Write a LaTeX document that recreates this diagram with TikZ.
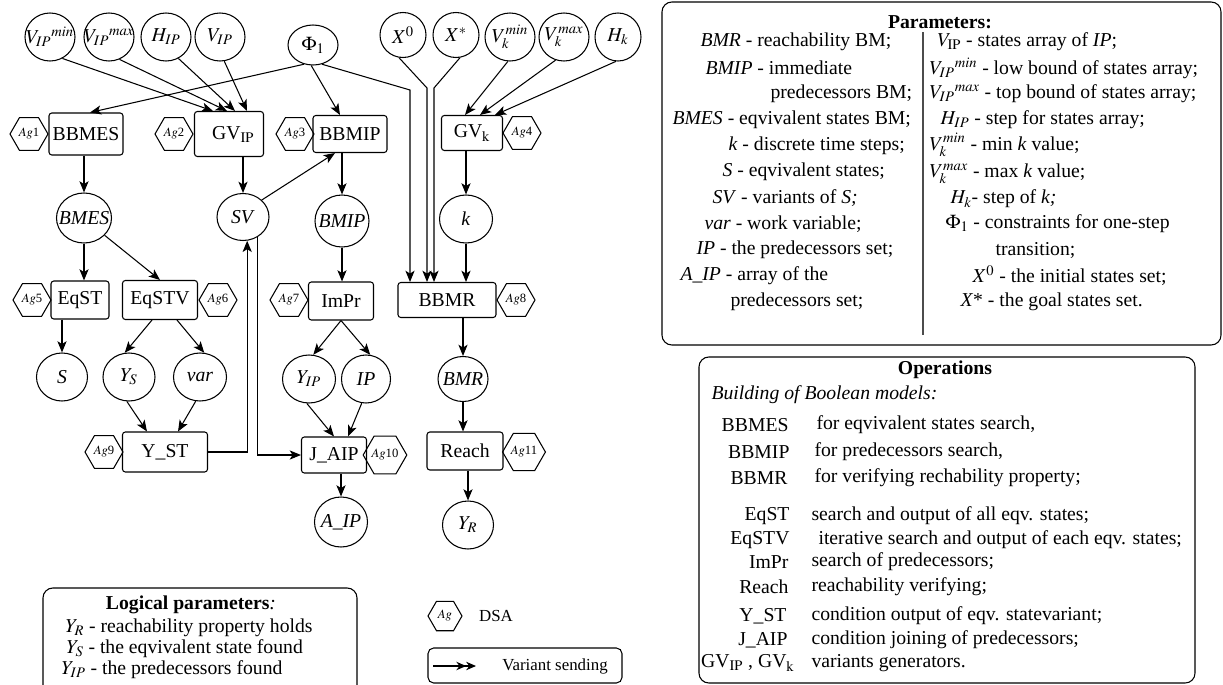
\documentclass[tikz,border=0pt]{standalone}
\usepackage{mathptmx}
\usepackage{fontspec}
\setmainfont{Liberation Serif}
\usetikzlibrary{shapes.geometric,arrows.meta}

\newcommand{\pu}{0.025cm}
\newcommand{\nodefont}{\fontsize{14}{16}\selectfont}
\newcommand{\legfont}{\fontsize{14}{16}\selectfont}
\newcommand{\keyfont}{\fontsize{12}{14}\selectfont}
\newcommand{\agfont}{\fontsize{9}{10}\selectfont}
\newcommand{\vn}[1]{\makebox[0pt]{#1}}
\newcommand{\ag}[1]{{\agfont$Ag$#1}}

\tikzset{
  opbox/.style={draw, rounded corners=2pt, minimum height=38*\pu, inner sep=1pt, font=\nodefont},
  varnode/.style={draw, ellipse, minimum width=50*\pu, minimum height=48*\pu, inner sep=0pt, font=\nodefont},
  agent/.style={draw, regular polygon, regular polygon sides=6, minimum size=38*\pu, inner sep=0pt},
  arr/.style={-{Stealth[length=8pt,width=6.5pt,inset=2pt]}},
  legline/.style={anchor=west, font=\legfont, inner sep=0pt},
  legbox/.style={draw, rounded corners=7pt},
}

\begin{document}
\begin{tikzpicture}[x=\pu, y=-\pu, line width=0.75pt]
        \useasboundingbox (0,0) rectangle (1223,684);
        \clip (0,0) rectangle (1223,684);

        % input variables
        \node[varnode] (vipmin) at (50,37) {\vn{${V_{IP}}^{min}$}};
        \node[varnode] (vipmax) at (109,37) {\vn{${V_{IP}}^{max}$}};
        \node[varnode] (hip) at (166,37) {\vn{$H_{IP}$}};
        \node[varnode] (vip) at (220,37) {\vn{$V_{IP}$}};
        \node[varnode, minimum height=40*\pu] (phi) at (313,45) {\vn{$\Phi_1$}};
        \node[varnode, minimum width=46*\pu, minimum height=45*\pu] (xz) at (403,35) {\vn{$X^0$}};
        \node[varnode, minimum width=46*\pu, minimum height=45*\pu] (xs) at (456,35) {\vn{$X^*$}};
        \node[varnode] (vkmin) at (510,37) {\vn{$V_k^{min}$}};
        \node[varnode] (vkmax) at (564,37) {\vn{$V_k^{max}$}};
        \node[varnode, minimum width=46*\pu] (hk) at (618,37) {\vn{$H_k$}};

        % builders and generators
        \node[opbox, minimum width=74*\pu, minimum height=42*\pu] (bbmes) at (86,134) {BBMES};
        \node[opbox, minimum width=69*\pu, minimum height=45*\pu] (gvip) at (229,134) {\hspace{6pt}GV$_{\mathrm{IP}}$};
        \node[opbox, minimum width=74*\pu, minimum height=37*\pu] (bbmip) at (350,134) {BBMIP};
        \node[opbox, minimum width=61*\pu, minimum height=35*\pu] (gvk) at (472,133) {GV$_{\mathrm{k}}$};
        \node[agent] (ag1) at (29,134) {\ag{1}};
        \node[agent] (ag2) at (174,134) {\ag{2}};
        \node[agent] (ag3) at (295,134) {\ag{3}};
        \node[agent] (ag4) at (522,133) {\ag{4}};

        % boolean models
        \node[varnode, minimum width=55*\pu, minimum height=50*\pu] (bmes) at (84,218) {\vn{\textit{BMES}}};
        \node[varnode, minimum width=52*\pu, minimum height=47*\pu] (sv) at (243,217) {\vn{\textit{SV}}};
        \node[varnode, minimum width=54*\pu, minimum height=52*\pu] (bmip) at (342,221) {\vn{\textit{BMIP}}};
        \node[varnode, minimum width=53*\pu] (k) at (466,219) {\vn{\textit{k}}};

        % search operations
        \node[opbox, minimum width=58*\pu] (eqst) at (80,300) {EqST};
        \node[opbox, minimum width=75*\pu, minimum height=39*\pu] (eqstv) at (160,300) {EqSTV};
        \node[opbox, minimum width=65*\pu] (impr) at (341,301) {ImPr};
        \node[opbox, minimum width=98*\pu, minimum height=35*\pu] (bbmr) at (447,300) {BBMR};
        \node[agent] (ag5) at (32,300) {\ag{5}};
        \node[agent] (ag6) at (218,300) {\ag{6}};
        \node[agent] (ag7) at (289,300) {\ag{7}};
        \node[agent] (ag8) at (516,300) {\ag{8}};

        % intermediate results
        \node[varnode, minimum width=51*\pu] (s) at (62,377) {\vn{\textit{S}}};
        \node[varnode, minimum width=52*\pu] (ys) at (129,377) {\vn{$Y_S$}};
        \node[varnode, minimum width=53*\pu] (var) at (200,377) {\vn{\textit{var}}};
        \node[varnode, minimum width=53*\pu] (yip) at (309,379) {\vn{$Y_{IP}$}};
        \node[varnode, minimum width=49*\pu] (ip) at (366,379) {\vn{\textit{IP}}};
        \node[varnode, minimum height=45*\pu] (bmr) at (463,379) {\vn{\textit{BMR}}};

        % conditions
        \node[opbox, minimum width=85*\pu, minimum height=40*\pu] (yst) at (165,452) {Y\_ST};
        \node[opbox, minimum width=65*\pu, minimum height=36*\pu] (jaip) at (334,455) {J\_AIP};
        \node[opbox, minimum width=76*\pu] (reach) at (465,451) {Reach};
        \node[agent] (ag9) at (104,452) {\ag{9}};
        \node[agent] (ag10) at (385,455) {\ag{10}};
        \node[agent] (ag11) at (524,452) {\ag{11}};

        % outputs
        \node[varnode, minimum width=53*\pu, minimum height=50*\pu] (aip) at (341,522) {\vn{\textit{A\_IP}}};
        \node[varnode, minimum width=51*\pu] (yr) at (468,525) {\vn{$Y_R$}};

        % connectors to generators
        \draw[arr] (vipmin.-60) -- ([xshift=-16*\pu]gvip.north);
        \draw[arr] (vipmax.-65) -- ([xshift=-2*\pu]gvip.north);
        \draw[arr] (hip.-60) -- ([xshift=6*\pu]gvip.north);
        \draw[arr] (vip.-80) -- ([xshift=18*\pu]gvip.north);
        \draw[arr] (vkmin.-95) -- ([xshift=-7*\pu]gvk.north);
        \draw[arr] (vkmax.-110) -- ([xshift=8*\pu]gvk.north);
        \draw[arr] (hk.-95) -- ([xshift=23*\pu]gvk.north);

        % constraints and state sets
        \draw[arr] (phi.-115) -- ([xshift=4*\pu]bbmes.north);
        \draw[arr] (phi.-95) -- ([xshift=-10*\pu]bbmip.north);
        \coordinate (phibend) at (410,90);
        \coordinate (xzbend) at (427,88);
        \coordinate (xsbend) at (434,88);
        \draw[arr] (phi.-65) -- (phibend) -- (phibend |- bbmr.north);
        \draw[arr] (xz.-100) -- (xzbend) -- (xzbend |- bbmr.north);
        \draw[arr] (xs.-80) -- (xsbend) -- (xsbend |- bbmr.north);

        % main flow
        \draw[arr] (bbmes.south -| bmes.north) -- (bmes.north);
        \draw[arr] (gvip.south -| sv.north) -- (sv.north);
        \draw[arr] (bbmip.south -| bmip.north) -- (bmip.north);
        \draw[arr] (gvk.south -| k.north) -- (k.north);
        \draw[arr] (sv.north east) -- ([xshift=-15*\pu]bbmip.south);
        \draw[arr] (bmes.south) -- (bmes.south |- eqst.north);
        \draw[arr] (bmes.-40) -- (eqstv.north);
        \draw[arr] (bmip.south) -- (bmip.south |- impr.north);
        \draw[arr] (k.south) -- (k.south |- bbmr.north);
        \draw[arr] (eqst.south -| s.north) -- (s.north);
        \draw[arr] ([xshift=-8*\pu]eqstv.south) -- (ys.100);
        \draw[arr] ([xshift=17*\pu]eqstv.south) -- (var.80);
        \draw[arr] (impr.south) -- (yip.80);
        \draw[arr] (impr.south) -- (ip.80);
        \draw[arr] (bbmr.south -| bmr.north) -- (bmr.north);
        \draw[arr] (ys.-95) -- ([xshift=-18*\pu]yst.north);
        \draw[arr] (var.-100) -- ([xshift=13*\pu]yst.north);
        \draw[arr] (yip.-95) -- (jaip.north);
        \draw[arr] (ip.-100) -- ([xshift=14*\pu]jaip.north);
        \draw[arr] (bmr.south) -- (bmr.south |- reach.north);
        \draw[arr] (yst.east) -| (sv.-80);
        \draw[arr] (sv.-55) |- (jaip.west);
        \draw[arr] (jaip.south -| aip.north) -- (aip.north);
        \draw[arr] (reach.south -| yr.north) -- (yr.north);

        % parameters
        \node[legbox, minimum width=559*\pu, minimum height=343*\pu] (parbox) at (941.5,173.5) {};
        \node[font=\legfont\bfseries] (partitle) at (940,22) {Parameters:};
        \draw[black!70] (923,32) -- (923,335);
        \node[legline] (p1) at (700,42) {\textit{BMR} - reachability BM;};
        \node[legline] (p2) at (705,68) {\textit{BMIP} - immediate};
        \node[legline] (p3) at (770,94) {predecessors BM;};
        \node[legline] (p4) at (672,120) {\textit{BMES} - eqvivalent states BM;};
        \node[legline] (p5) at (728,146) {\textit{k} - discrete time steps;};
        \node[legline] (p6) at (722,172) {\textit{S} - eqvivalent states;};
        \node[legline] (p7) at (712,198) {\textit{SV} - variants of \textit{S;}};
        \node[legline] (p8) at (704,224) {\textit{var} - work variable;};
        \node[legline] (p9) at (696,250) {\textit{IP} - the predecessors set;};
        \node[legline] (p10) at (680,276) {\textit{A\_IP} - array of the};
        \node[legline] (p11) at (730,302) {predecessors set;};
        \node[legline] (q1) at (937,42) {$V_{\mathrm{IP}}$ - states array of \textit{IP};};
        \node[legline] (q2) at (929,68) {${V_{IP}}^{min}$ - low bound of states array;};
        \node[legline] (q3) at (929,94) {${V_{IP}}^{max}$ - top bound of states array;};
        \node[legline] (q4) at (940,120) {$H_{IP}$ - step for states array;};
        \node[legline] (q5) at (929,145) {$V_k^{min}$ - min \textit{k} value;};
        \node[legline] (q6) at (929,174) {$V_k^{max}$ - max \textit{k} value;};
        \node[legline] (q7) at (950,199) {$H_k$- step of \textit{k;}};
        \node[legline] (q8) at (945,224) {$\Phi_1$ - constraints for one-step};
        \node[legline] (q9) at (995,250) {transition;};
        \node[legline] (q10) at (972,276) {$X^0$ - the initial states set;};
        \node[legline] (q11) at (960,302) {\textit{X}* - the goal states set.};

        % operations
        \node[legbox, minimum width=496*\pu, minimum height=326*\pu] (opsbox) at (947,520) {};
        \node[font=\legfont\bfseries] (opstitle) at (945,370) {Operations};
        \node[legline] (opsub) at (711,395) {\textit{Building of Boolean models:}};
        \node[legline, anchor=east] (o1) at (789,425) {BBMES};
        \node[legline, anchor=east] (o2) at (790,452) {BBMIP};
        \node[legline, anchor=east] (o3) at (788,478) {BBMR};
        \node[legline, anchor=east] (o4) at (790,516) {EqST};
        \node[legline, anchor=east] (o5) at (790,540) {EqSTV};
        \node[legline, anchor=east] (o6) at (789,562) {ImPr};
        \node[legline, anchor=east] (o7) at (789,587) {Reach};
        \node[legline, anchor=east] (o8) at (787,616) {Y\_ST};
        \node[legline, anchor=east] (o9) at (788,640) {J\_AIP};
        \node[legline, anchor=east] (o10) at (795,663) {GV$_{\mathrm{IP}}$ , GV$_{\mathrm{k}}$};
        \node[legline] (d1) at (816,425) {for eqvivalent states search,};
        \node[legline] (d2) at (814,452) {for predecessors search,};
        \node[legline] (d3) at (814,478) {for verifying rechability property;};
        \node[legline] (d4) at (811,516) {search and output of all eqv. states;};
        \node[legline] (d5) at (818,540) {iterative search and output of each eqv. states;};
        \node[legline] (d6) at (811,562) {search of predecessors;};
        \node[legline] (d7) at (811,587) {reachability verifying;};
        \node[legline] (d8) at (811,616) {condition output of eqv. statevariant;};
        \node[legline] (d9) at (811,640) {condition joining of predecessors;};
        \node[legline] (d10) at (811,663) {variants generators.};

        % logical parameters
        \node[legbox, minimum width=314*\pu, minimum height=130*\pu] (logbox) at (200,653) {};
        \node[font=\legfont] (logtitle) at (191,605) {\textbf{Logical parameters}\textit{:}};
        \node[legline] (l1) at (65,628) {$Y_R$ - reachability property holds};
        \node[legline] (l2) at (66,649) {$Y_S$ - the eqvivalent state found};
        \node[legline] (l3) at (61,670) {$Y_{IP}$ - the predecessors found};

        % key
        \node[agent, minimum size=34*\pu] (agkey) at (445,616) {{\agfont$Ag$}};
        \node[font=\keyfont] (dsa) at (496,616) {DSA};
        \node[legbox, rounded corners=4pt, minimum width=194*\pu, minimum height=35*\pu] (varbox) at (525,665.5) {};
        \coordinate (vsa) at (433,666);
        \coordinate (vsb) at (476,666);
        \draw[-{Stealth[length=7pt,width=6pt]Stealth[length=7pt,width=6pt]}] (vsa) -- (vsb);
        \node[font=\keyfont] (vstext) at (555,666) {Variant sending};

    \end{tikzpicture}
\end{document}
